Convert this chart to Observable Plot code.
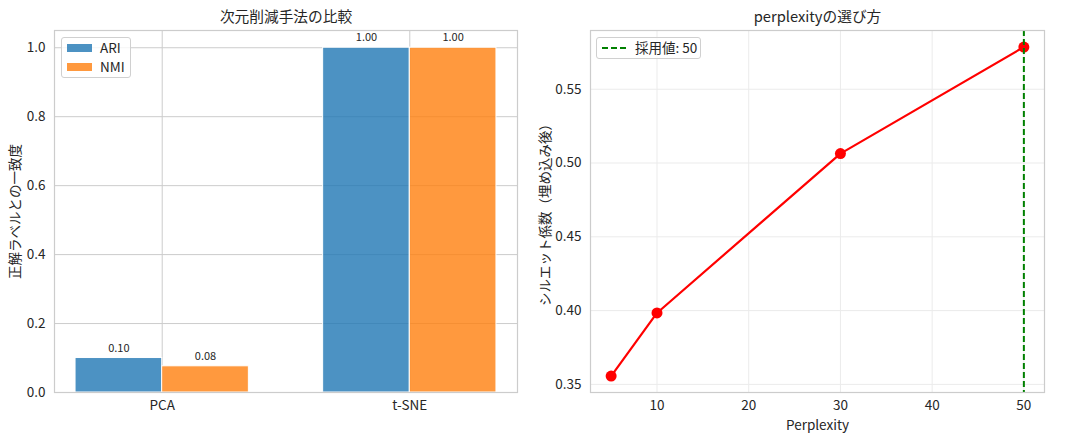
<!DOCTYPE html>
<html>
<head>
<meta charset="utf-8">
<script src="https://cdn.jsdelivr.net/npm/d3@7"></script>
<script src="https://cdn.jsdelivr.net/npm/@observablehq/plot@0.6"></script>
<style>
  body { margin: 0; background: #fff; }
  #wrap { position: relative; width: 1070px; height: 441px; overflow: hidden; font-family: "Noto Sans CJK JP", sans-serif; color: #262626; }
  #wrap svg { position: absolute; top: 0; }
  .legend { position: absolute; background: rgba(255,255,255,0.8); border: 1px solid #d0d0d0; border-radius: 3px; box-sizing: border-box; font-size: 13.5px; }
  .item { position: absolute; white-space: nowrap; line-height: 1; }
</style>
</head>
<body>
<div id="wrap"></div>
<script>
// ---- data ----
const methods = ["PCA", "t-SNE"];
const metrics = ["ARI", "NMI"];
const ariValues = [0.10, 1.00];
const nmiValues = [0.076, 1.00];
const metricColors = ["#1f77b4", "#ff7f0e"];
const leftYTicks = [0, 0.2, 0.4, 0.6, 0.8, 1.0];

const perplexity = [5, 10, 30, 50];
const silhouette = [0.3556, 0.3984, 0.5064, 0.5786];
const chosenPerplexity = 50;
const rightXTicks = [10, 20, 30, 40, 50];
const rightYTicks = [0.35, 0.40, 0.45, 0.50, 0.55];

const leftTitle = "次元削減手法の比較";
const leftYLabel = "正解ラベルとの一致度";
const rightTitle = "perplexityの選び方";
const rightYLabel = "シルエット係数（埋め込み後）";
const rightXLabel = "Perplexity";
const chosenLabel = "採用値: 50";

// ---- build ----
const barWidth = 0.35;
const rows = [];
methods.forEach((m, i) => {
  [ariValues[i], nmiValues[i]].forEach((v, j) => {
    rows.push({method: m, metric: metrics[j], value: v,
      x1: i + (j - 1) * barWidth, x2: i + j * barWidth, xc: i + (j - 0.5) * barWidth});
  });
});

const font = '"Noto Sans CJK JP", sans-serif';
const baseStyle = {fontFamily: font, fontSize: "13.5px", color: "#262626", background: "transparent", overflow: "visible"};
const gridDark = "#cccccc";
const gridLight = "#ebebeb";
const txt = "#262626";

const left = Plot.plot({
  width: 535, height: 441,
  marginLeft: 54, marginRight: 18, marginTop: 30, marginBottom: 49,
  style: baseStyle,
  x: {type: "linear", domain: [-0.435, 1.435], axis: null},
  y: {domain: [0, 1.05], axis: null},
  color: {domain: metrics, range: metricColors},
  marks: [
    Plot.ruleY(leftYTicks, {stroke: gridDark, strokeWidth: 1}),
    Plot.ruleX(methods.map((d, i) => i), {stroke: gridDark, strokeWidth: 1}),
    Plot.rectY(rows, {x1: "x1", x2: "x2", y: "value", fill: "metric", fillOpacity: 0.8, stroke: "white", strokeWidth: 1}),
    Plot.text(rows, {x: "xc", y: "value", text: d => d.value.toFixed(2), dy: -10, fontSize: 11, fill: txt}),
    Plot.frame({stroke: gridDark, strokeWidth: 1.2}),
    Plot.axisY(leftYTicks, {tickSize: 0, tickPadding: 9, tickFormat: d => d.toFixed(1), label: null, fontSize: 13.5}),
    Plot.axisX(methods.map((d, i) => i), {tickSize: 0, tickPadding: 8, tickFormat: i => methods[i], label: null, fontSize: 13.5}),
    Plot.text([leftTitle], {frameAnchor: "top", dy: -13, lineAnchor: "middle", textAnchor: "middle", fontSize: 14.7, fill: txt}),
    Plot.text([leftYLabel], {frameAnchor: "left", dx: -39, rotate: -90, lineAnchor: "middle", textAnchor: "middle", fontSize: 13.5, fill: txt, style: {fontFeatureSettings: '"palt"'}})
  ]
});
left.style.left = "0px";

const pts = perplexity.map((p, i) => ({p, s: silhouette[i]}));
const right = Plot.plot({
  width: 535, height: 441,
  marginLeft: 55, marginRight: 26, marginTop: 30, marginBottom: 49,
  style: baseStyle,
  x: {domain: [2.75, 52.25], axis: null},
  y: {domain: [0.3445, 0.5898], axis: null},
  marks: [
    Plot.ruleY(rightYTicks, {stroke: gridLight, strokeWidth: 1}),
    Plot.ruleX(rightXTicks, {stroke: gridLight, strokeWidth: 1}),
    Plot.line(pts, {x: "p", y: "s", stroke: "red", strokeWidth: 2.2}),
    Plot.dot(pts, {x: "p", y: "s", r: 5.5, fill: "red"}),
    Plot.ruleX([chosenPerplexity], {stroke: "green", strokeWidth: 2, strokeDasharray: "6,3"}),
    Plot.frame({stroke: gridDark, strokeWidth: 1.2}),
    Plot.axisY(rightYTicks, {tickSize: 0, tickPadding: 9, tickFormat: d => d.toFixed(2), label: null, fontSize: 13.5}),
    Plot.axisX(rightXTicks, {tickSize: 0, tickPadding: 8, label: null, fontSize: 13.5}),
    Plot.text([rightTitle], {frameAnchor: "top", dy: -13, lineAnchor: "middle", textAnchor: "middle", fontSize: 14.7, fill: txt}),
    Plot.text([rightXLabel], {frameAnchor: "bottom", dy: 33, lineAnchor: "middle", textAnchor: "middle", fontSize: 13.5, fill: txt}),
    Plot.text([rightYLabel], {frameAnchor: "left", dx: -45, rotate: -90, lineAnchor: "middle", textAnchor: "middle", fontSize: 13.5, fill: txt})
  ]
});
right.style.left = "535px";

const wrap = document.getElementById("wrap");
wrap.appendChild(left);
wrap.appendChild(right);

// legends (HTML)
function addLegend(box, items) {
  const lg = document.createElement("div");
  lg.className = "legend";
  Object.assign(lg.style, {left: box.x + "px", top: box.y + "px", width: box.w + "px", height: box.h + "px"});
  items.forEach(it => {
    const sw = document.createElement("div");
    sw.className = "item";
    Object.assign(sw.style, it.swatch);
    lg.appendChild(sw);
    const tx = document.createElement("div");
    tx.className = "item";
    tx.textContent = it.label;
    Object.assign(tx.style, {left: it.tx + "px", top: it.ty + "px"});
    lg.appendChild(tx);
  });
  wrap.appendChild(lg);
}
addLegend({x: 61, y: 37, w: 70, h: 41}, metrics.map((m, j) => ({
  label: m,
  swatch: {left: "5px", top: (6 + j * 19) + "px", width: "25px", height: "8px", background: metricColors[j], opacity: 0.8},
  tx: 38, ty: 3 + j * 19
})));
addLegend({x: 596, y: 37, w: 105, h: 22}, [{
  label: chosenLabel,
  swatch: {left: "5px", top: "9px", width: "24px", height: "0px", borderTop: "2px dashed green"},
  tx: 38, ty: 3
}]);
</script>
</body>
</html>
